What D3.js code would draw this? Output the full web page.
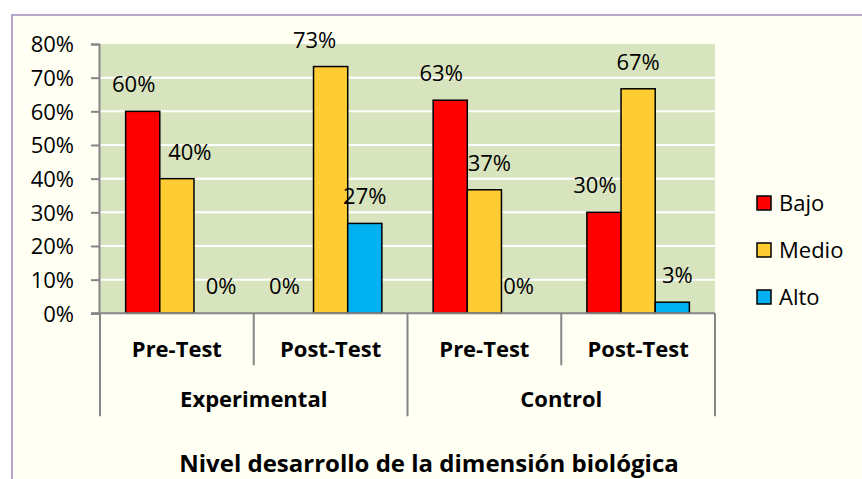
<!DOCTYPE html>
<html>
<head>
<meta charset="utf-8">
<script src="https://cdn.jsdelivr.net/npm/d3@7"></script>
<style>
  body { margin: 0; background: #ffffff; }
  svg text { font-family: "Open Sans", Lato, sans-serif; fill: #000; }
</style>
</head>
<body>
<div id="chart-container"></div>
<script>
// Chart data
var groups = ["Experimental", "Control"];
var phases = ["Pre-Test", "Post-Test"];
var series = ["Bajo", "Medio", "Alto"];
var bajo = [0.600, 0.000, 0.633, 0.300];
var medio = [0.400, 0.733, 0.367, 0.667];
var alto = [0.000, 0.267, 0.000, 0.033];
var yTicks = [0, 0.1, 0.2, 0.3, 0.4, 0.5, 0.6, 0.7, 0.8];
var title = "Nivel desarrollo de la dimensión biológica";

var colors = { "Bajo": "#FF0000", "Medio": "#FFCC33", "Alto": "#00B0F0" };

function drawChart() {
    var width = 862;
    var height = 479;
    var plot = { left: 100, right: 715, top: 44, bottom: 313.3 };
    var fontFamily = "'Open Sans', Lato, sans-serif";

    // the labels in the original were dragged a bit sideways
    var labelNudge = {
        "0-Bajo": -9, "0-Medio": 13, "0-Alto": 10,
        "1-Bajo": -12, "1-Medio": -16,
        "2-Bajo": -9, "2-Medio": 5,
        "3-Bajo": -9, "3-Alto": 5
    };

    // build one row per category (group x phase)
    var categories = [];
    groups.forEach(g => phases.forEach(p => categories.push({ group: g, phase: p })));
    var values = { "Bajo": bajo, "Medio": medio, "Alto": alto };

    var svg = d3.select("#chart-container")
        .append("svg")
        .attr("width", width)
        .attr("height", height);

    // Chart area with border
    svg.append("rect")
        .attr("x", 12)
        .attr("y", 15)
        .attr("width", width + 20)
        .attr("height", height + 20)
        .attr("fill", "#FFFFF3")
        .attr("stroke", "#B7A7CD")
        .attr("stroke-width", 2);

    var x0 = d3.scaleBand()
        .domain(d3.range(categories.length))
        .range([plot.left, plot.right])
        .padding(0);

    // Excel-like gap width of 150%
    var x1 = d3.scaleBand()
        .domain(series)
        .range([0, x0.bandwidth()])
        .paddingInner(0)
        .paddingOuter(0.75);

    var y = d3.scaleLinear()
        .domain([0, 0.8])
        .range([plot.bottom, plot.top]);

    // plot background
    svg.append("rect")
        .attr("x", plot.left)
        .attr("y", plot.top)
        .attr("width", plot.right - plot.left)
        .attr("height", plot.bottom - plot.top)
        .attr("fill", "#D8E4BE");

    // gridlines
    svg.append("g")
        .selectAll("line")
        .data(yTicks.filter(d => d > 0 && d < 0.8))
        .enter()
        .append("line")
        .attr("x1", plot.left)
        .attr("x2", plot.right)
        .attr("y1", d => y(d))
        .attr("y2", d => y(d))
        .attr("stroke", "#ffffff")
        .attr("stroke-width", 2);

    // Y axis
    var yAxis = svg.append("g")
        .attr("transform", `translate(${plot.left - 1}, 0)`)
        .call(d3.axisLeft(y).tickValues(yTicks).tickFormat(d3.format(".0%")).tickSize(8).tickPadding(17));
    yAxis.select(".domain").attr("stroke", "#868686").attr("stroke-width", 2);
    yAxis.selectAll(".tick line").attr("stroke", "#868686").attr("stroke-width", 2);
    yAxis.selectAll("text")
        .style("font-size", "22px")
        .style("font-family", fontFamily)
        .attr("dy", "0.36em");

    // bars
    var barData = [];
    categories.forEach((c, i) => {
        series.forEach(s => barData.push({ cat: i, series: s, value: values[s][i] }));
    });

    svg.append("g")
        .selectAll("rect")
        .data(barData)
        .enter()
        .append("rect")
        .attr("x", d => x0(d.cat) + x1(d.series))
        .attr("y", d => y(d.value))
        .attr("width", x1.bandwidth())
        .attr("height", d => y(0) - y(d.value))
        .attr("fill", d => colors[d.series])
        .attr("stroke", "#000")
        .attr("stroke-width", 1.5);

    // data labels
    svg.append("g")
        .selectAll("text")
        .data(barData)
        .enter()
        .append("text")
        .attr("x", d => x0(d.cat) + x1(d.series) + x1.bandwidth() / 2 + (labelNudge[d.cat + "-" + d.series] || 0))
        .attr("y", d => y(d.value) - 19)
        .attr("text-anchor", "middle")
        .style("font-size", "22px")
        .text(d => d3.format(".0%")(d.value));

    // category axis line
    svg.append("line")
        .attr("x1", plot.left - 9)
        .attr("x2", plot.right)
        .attr("y1", plot.bottom)
        .attr("y2", plot.bottom)
        .attr("stroke", "#868686")
        .attr("stroke-width", 2);

    // category separators
    var seps = d3.range(categories.length + 1);
    svg.append("g")
        .selectAll("line")
        .data(seps)
        .enter()
        .append("line")
        .attr("x1", d => d === categories.length ? plot.right : x0(d))
        .attr("x2", d => d === categories.length ? plot.right : x0(d))
        .attr("y1", plot.bottom)
        .attr("y2", d => d % phases.length === 0 ? plot.bottom + 103 : plot.bottom + 52)
        .attr("stroke", "#868686")
        .attr("stroke-width", 2);

    // phase labels
    svg.append("g")
        .selectAll("text")
        .data(categories)
        .enter()
        .append("text")
        .attr("x", (d, i) => x0(i) + x0.bandwidth() / 2)
        .attr("y", plot.bottom + 44)
        .attr("text-anchor", "middle")
        .style("font-size", "22px")
        .style("font-weight", "bold")
        .text(d => d.phase);

    // group labels
    svg.append("g")
        .selectAll("text")
        .data(groups)
        .enter()
        .append("text")
        .attr("x", (d, i) => x0(i * phases.length) + x0.bandwidth() * phases.length / 2)
        .attr("y", plot.bottom + 94)
        .attr("text-anchor", "middle")
        .style("font-size", "22px")
        .style("font-weight", "bold")
        .text(d => d);

    // title at bottom
    svg.append("text")
        .attr("x", 429)
        .attr("y", 472)
        .attr("text-anchor", "middle")
        .style("font-size", "24px")
        .style("font-weight", "bold")
        .text(title);

    // legend
    var legend = svg.append("g")
        .selectAll("g")
        .data(series)
        .enter()
        .append("g")
        .attr("transform", (d, i) => `translate(757, ${203 + i * 47})`);

    legend.append("rect")
        .attr("x", 0)
        .attr("y", -7)
        .attr("width", 14)
        .attr("height", 14)
        .attr("fill", d => colors[d])
        .attr("stroke", "#000")
        .attr("stroke-width", 1.5);

    legend.append("text")
        .attr("x", 22)
        .attr("y", 0)
        .attr("dy", "0.36em")
        .style("font-size", "22px")
        .text(d => d);
}

drawChart();
</script>
</body>
</html>
